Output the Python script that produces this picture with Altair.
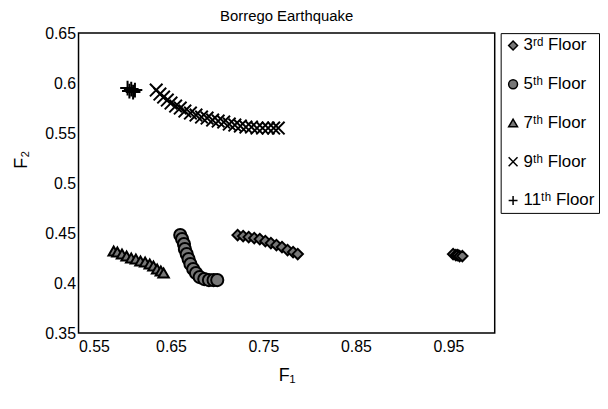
import altair as alt
import pandas as pd

floors = ["3ʳᵈ Floor", "5ᵗʰ Floor", "7ᵗʰ Floor", "9ᵗʰ Floor", "11ᵗʰ Floor"]

f3_x = [0.722, 0.728, 0.734, 0.740, 0.746, 0.752, 0.758, 0.764, 0.770, 0.776, 0.782, 0.787,
        0.955, 0.958, 0.960, 0.962, 0.965]
f3_y = [0.448, 0.447, 0.446, 0.445, 0.444, 0.442, 0.440, 0.438, 0.436, 0.433, 0.431, 0.429,
        0.429, 0.428, 0.428, 0.427, 0.427]

f5_x = [0.660, 0.662, 0.664, 0.665, 0.667, 0.669, 0.671, 0.674, 0.677, 0.681, 0.686, 0.691, 0.696, 0.700]
f5_y = [0.448, 0.444, 0.439, 0.434, 0.429, 0.424, 0.419, 0.414, 0.410, 0.406, 0.404, 0.403, 0.403, 0.403]

f7_x = [0.588, 0.592, 0.597, 0.602, 0.607, 0.612, 0.617, 0.622, 0.627, 0.631, 0.635, 0.639, 0.642]
f7_y = [0.432, 0.431, 0.429, 0.427, 0.425, 0.424, 0.422, 0.421, 0.419, 0.417, 0.414, 0.412, 0.410]

f9_x = [0.634, 0.638, 0.642, 0.646, 0.650, 0.655, 0.660, 0.665, 0.671, 0.677, 0.683, 0.689, 0.695,
        0.701, 0.707, 0.713, 0.719, 0.725, 0.731, 0.737, 0.743, 0.749, 0.755, 0.761, 0.766]
f9_y = [0.593, 0.589, 0.586, 0.583, 0.580, 0.577, 0.575, 0.572, 0.570, 0.568, 0.566, 0.565, 0.563,
        0.562, 0.561, 0.559, 0.558, 0.557, 0.556, 0.556, 0.555, 0.555, 0.555, 0.555, 0.555]

f11_x = [0.603, 0.605, 0.607, 0.609, 0.611]
f11_y = [0.595, 0.592, 0.594, 0.591, 0.593]

x_ticks = [0.55, 0.65, 0.75, 0.85, 0.95]
y_ticks = [0.35, 0.4, 0.45, 0.5, 0.55, 0.6, 0.65]

rows = []
for name, xs, ys in zip(floors, [f3_x, f5_x, f7_x, f9_x, f11_x], [f3_y, f5_y, f7_y, f9_y, f11_y]):
    for a, b in zip(xs, ys):
        rows.append({"floor": name, "F1": a, "F2": b})
df = pd.DataFrame(rows)

FONT = "Liberation Sans"
shapes = ["diamond", "circle", "triangle-up",
          "M-1,-1L1,1M-1,1L1,-1", "M-1,0L1,0M0,-1L0,1"]
sizes = [110, 150, 110, 160, 220]

x_enc = alt.X("F1:Q", scale=alt.Scale(domain=[0.55, 1.0], nice=False, zero=False),
              axis=alt.Axis(title="F₁", values=x_ticks, format=".2f"))
y_enc = alt.Y("F2:Q", scale=alt.Scale(domain=[0.35, 0.65], nice=False, zero=False),
              axis=alt.Axis(title="F₂", values=y_ticks, format="~g", titleY=127))
shape_enc = alt.Shape("floor:N", scale=alt.Scale(domain=floors, range=shapes),
                      legend=alt.Legend(orient="right", offset=6, title=None))

layers = []
for name, s in zip(floors, sizes):
    layers.append(
        alt.Chart(df).transform_filter(alt.datum.floor == name).mark_point(
            filled=True, opacity=1, size=s
        ).encode(
            x=x_enc, y=y_enc, shape=shape_enc,
            fill=alt.value("#777777"), stroke=alt.value("black"),
            strokeWidth=alt.value(2),
        )
    )

chart = alt.layer(*layers).properties(
    width=419, height=302,
    title=alt.TitleParams("Borrego Earthquake", font=FONT, fontSize=15, fontWeight="normal",
                          color="black", offset=1),
    padding={"left": 4, "top": 0, "right": 0, "bottom": 2},
).configure_view(
    stroke="black", strokeWidth=1.5
).configure_axis(
    grid=False, ticks=False, domain=False,
    labelFont=FONT, labelFontSize=16, labelColor="black", labelPadding=3,
    titleFont=FONT, titleFontSize=18, titleFontWeight="normal", titleColor="black",
).configure_axisX(
    titlePadding=12, labelPadding=6
).configure_axisY(
    titlePadding=14
).configure_legend(
    strokeColor="black", fillColor="white", padding=4, cornerRadius=0,
    labelFont=FONT, labelFontSize=17, labelColor="black",
    symbolSize=80, symbolStrokeWidth=1.5,
    rowPadding=21, labelOffset=2,
)

chart.save("out.html", embed_options={"renderer": "svg", "actions": False})
